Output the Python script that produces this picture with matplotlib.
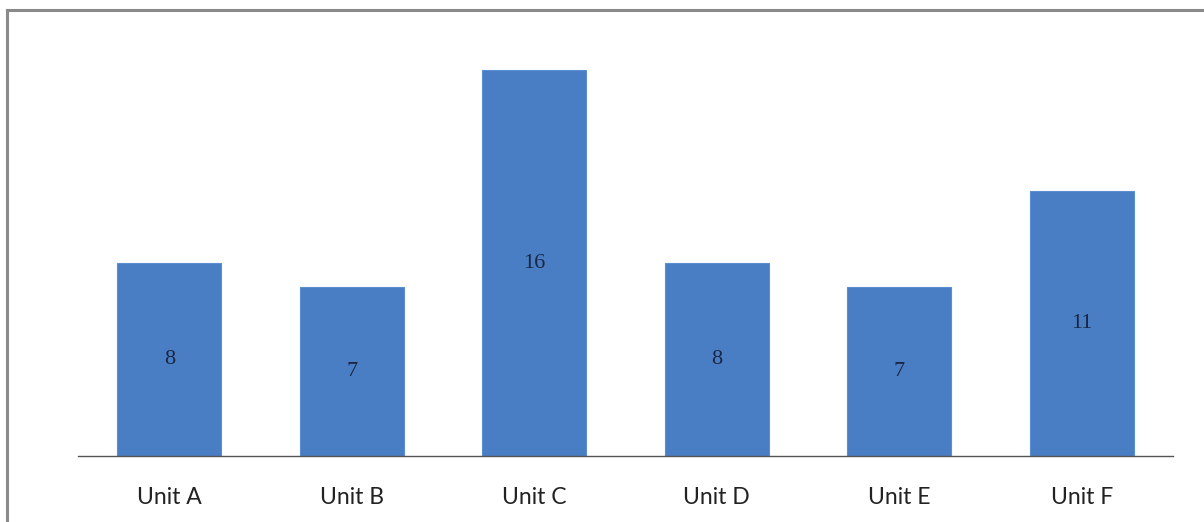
import matplotlib
matplotlib.use("Agg")
import matplotlib.pyplot as plt
from matplotlib.lines import Line2D

units = ["Unit A", "Unit B", "Unit C", "Unit D", "Unit E", "Unit F"]
counts = [8, 7, 16, 8, 7, 11]

W, H, DPI = 1204, 522, 100
fig = plt.figure(figsize=(W / DPI, H / DPI), dpi=DPI)
fig.patch.set_facecolor("white")

# plot area in pixel terms
left_px, right_px = 78, 1173
base_px, top_px = 456, 22
ax = fig.add_axes([left_px / W, (H - base_px) / H,
                   (right_px - left_px) / W, (base_px - top_px) / H])

x = range(len(units))
bars = ax.bar(x, counts, width=0.57, color="#4a7ec4", edgecolor="#5a8fd2",
              linewidth=0.8, zorder=2)
ax.set_xlim(-0.5, len(units) - 0.5)
ax.set_ylim(0, 18)

for b, v in zip(bars, counts):
    ax.text(b.get_x() + b.get_width() / 2, v / 2, str(v),
            ha="center", va="center", fontsize=16,
            family="Liberation Serif", color="#1a2744", zorder=3)

for side in ("top", "right", "left"):
    ax.spines[side].set_visible(False)
ax.spines["bottom"].set_color("#555555")
ax.spines["bottom"].set_linewidth(1.0)
ax.set_yticks([])
ax.set_xticks(list(x))
ax.set_xticklabels(units, family="Lato", fontsize=16.5, color="#222222")
ax.tick_params(axis="x", length=0, pad=22)

# outer frame: top and left edges only
fig.add_artist(Line2D([7 / W, 7 / W], [0, 1 - 10 / H], transform=fig.transFigure,
                      color="#8a8a8a", linewidth=2.2))
fig.add_artist(Line2D([7 / W, 1], [1 - 10 / H, 1 - 10 / H], transform=fig.transFigure,
                      color="#8a8a8a", linewidth=2.2))

fig.savefig("out.png", dpi=DPI, facecolor="white")
